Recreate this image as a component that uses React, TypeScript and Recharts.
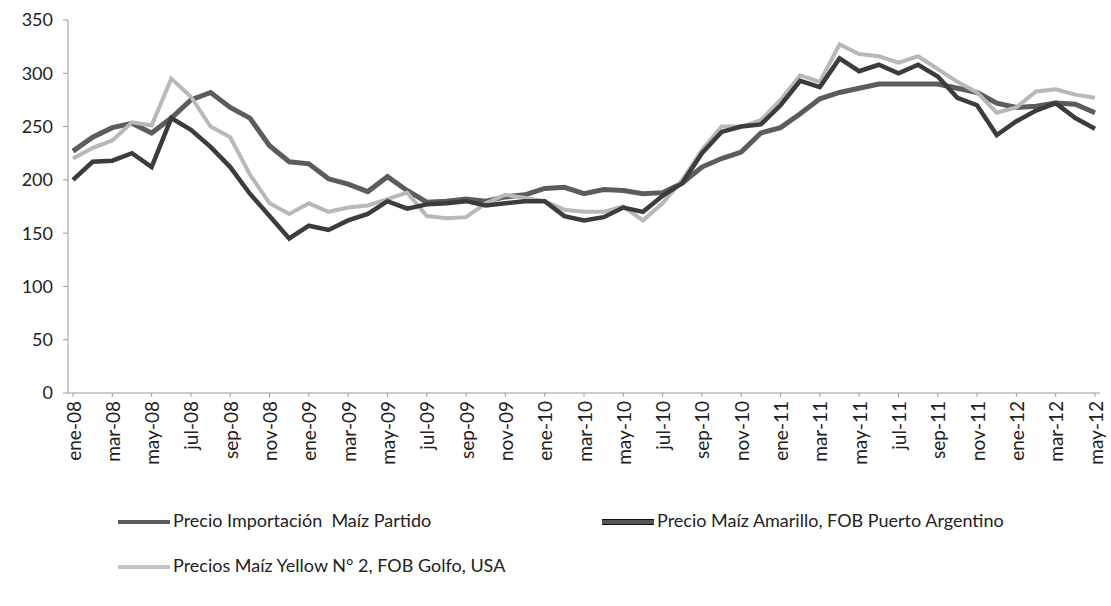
import React from "react";
import { LineChart, Line, XAxis, YAxis } from "recharts";

const months = [
  "ene-08", "feb-08", "mar-08", "abr-08", "may-08", "jun-08", "jul-08", "ago-08", "sep-08", "oct-08", "nov-08", "dic-08",
  "ene-09", "feb-09", "mar-09", "abr-09", "may-09", "jun-09", "jul-09", "ago-09", "sep-09", "oct-09", "nov-09", "dic-09",
  "ene-10", "feb-10", "mar-10", "abr-10", "may-10", "jun-10", "jul-10", "ago-10", "sep-10", "oct-10", "nov-10", "dic-10",
  "ene-11", "feb-11", "mar-11", "abr-11", "may-11", "jun-11", "jul-11", "ago-11", "sep-11", "oct-11", "nov-11", "dic-11",
  "ene-12", "feb-12", "mar-12", "abr-12", "may-12",
];

const importacionPartido = [
  227, 240, 249, 253, 244, 258, 275, 282, 268, 258, 232, 217,
  215, 201, 196, 189, 203, 190, 179, 180, 182, 180, 184, 186,
  192, 193, 187, 191, 190, 187, 188, 197, 212, 220, 226, 244,
  249, 262, 276, 282, 286, 290, 290, 290, 290, 286, 282, 272,
  268, 269, 272, 271, 263,
];

const fobArgentino = [
  200, 217, 218, 225, 212, 258, 247, 231, 212, 187, 166, 145,
  157, 153, 162, 168, 180, 173, 177, 178, 180, 176, 178, 180,
  180, 166, 162, 165, 174, 170, 185, 197, 225, 245, 250, 252,
  270, 293, 287, 314, 302, 308, 300, 308, 297, 277, 270, 242,
  255, 265, 272, 258, 248,
];

const fobGolfoUsa = [
  220, 230, 237, 254, 251, 295, 278, 250, 240, 205, 178, 168,
  178, 170, 174, 176, 182, 188, 166, 164, 165, 178, 186, 183,
  180, 172, 170, 170, 175, 162, 178, 200, 228, 250, 250, 256,
  275, 298, 292, 327, 318, 316, 310, 316, 304, 292, 282, 263,
  268, 283, 285, 280, 277,
];

const yTicks = [0, 50, 100, 150, 200, 250, 300, 350];

const seriesNames = [
  "Precio Importación  Maíz Partido",
  "Precio Maíz Amarillo, FOB Puerto Argentino",
  "Precios Maíz Yellow N° 2, FOB Golfo, USA",
];

const data = months.map((m, i) => ({
  month: m,
  partido: importacionPartido[i],
  argentino: fobArgentino[i],
  golfo: fobGolfoUsa[i],
}));

const FONT = "Lato, 'Liberation Sans', sans-serif";

const MonthTick = (props: any) => {
  const { x, y, payload } = props;
  return (
    <text
      x={x}
      y={y}
      transform={`rotate(-90, ${x}, ${y})`}
      textAnchor="end"
      dominantBaseline="central"
      fontSize={19}
      fontFamily={FONT}
      fill="#222"
    >
      {payload.value}
    </text>
  );
};

const Swatch = ({ color, border }: { color: string; border?: string }) => (
  <span
    style={{
      display: "inline-block",
      width: 52,
      height: 4,
      background: color,
      borderTop: border ? `1px solid ${border}` : undefined,
      borderBottom: border ? `1px solid ${border}` : undefined,
      marginRight: 3,
      verticalAlign: "middle",
    }}
  />
);

const legendText = { fontFamily: FONT, fontSize: 18, color: "#222", whiteSpace: "pre" as const };

export default function App() {
  return (
    <div style={{ position: "absolute", left: 0, top: 0, width: 1111, height: 606, background: "#fff" }}>
      <LineChart width={1111} height={480} data={data} margin={{ top: 20, right: 11, left: 8, bottom: 7 }}>
        <XAxis
          dataKey="month"
          interval={1}
          tick={<MonthTick />}
          tickSize={4}
          tickMargin={4}
          height={80}
          padding={{ left: 5, right: 5 }}
          stroke="#999"
        />
        <YAxis
          domain={[0, 350]}
          ticks={yTicks}
          width={60}
          tickSize={5}
          tickMargin={10}
          stroke="#999"
          tick={{ fill: "#222", fontSize: 18, fontFamily: FONT }}
        />
        <Line
          dataKey="partido"
          name={seriesNames[0]}
          stroke="#5c5c5c"
          strokeWidth={5}
          dot={false}
          isAnimationActive={false}
        />
        <Line
          dataKey="golfo"
          name={seriesNames[2]}
          stroke="#b8b8b8"
          strokeWidth={4}
          dot={false}
          isAnimationActive={false}
        />
        <Line
          dataKey="argentino"
          name={seriesNames[1]}
          stroke="#3c3c3c"
          strokeWidth={4.5}
          dot={false}
          isAnimationActive={false}
        />
      </LineChart>
      <div style={{ position: "absolute", left: 118, top: 509, ...legendText }}>
        <Swatch color="#5c5c5c" />
        {seriesNames[0]}
      </div>
      <div style={{ position: "absolute", left: 602, top: 509, ...legendText }}>
        <Swatch color="#555" border="#111" />
        {seriesNames[1]}
      </div>
      <div style={{ position: "absolute", left: 118, top: 554, ...legendText }}>
        <Swatch color="#c4c4c4" />
        {seriesNames[2]}
      </div>
    </div>
  );
}
